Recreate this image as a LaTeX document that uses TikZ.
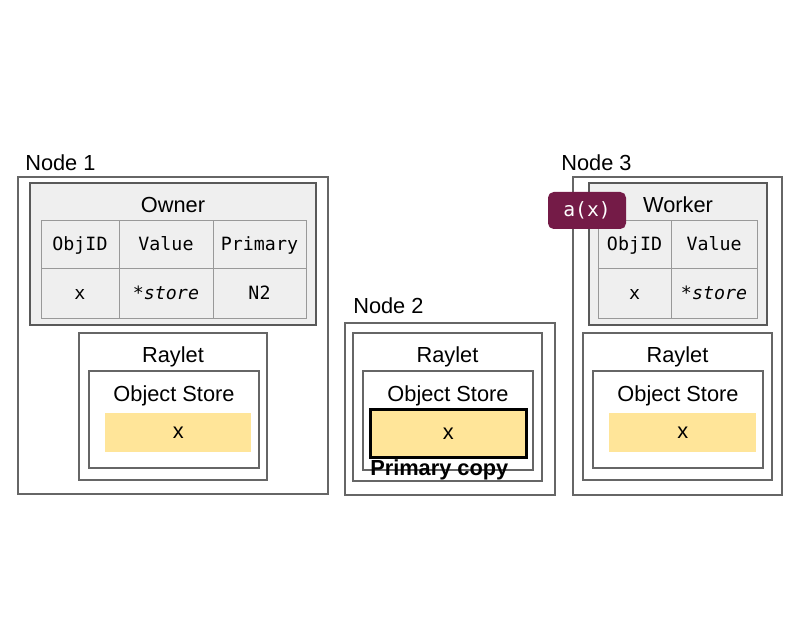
\documentclass[tikz,border=0pt]{standalone}
\usepackage{fontspec}
\setmainfont{Liberation Sans}
\setmonofont{DejaVu Sans Mono}
\usetikzlibrary{positioning,calc}

\definecolor{frame}{HTML}{666666}
\definecolor{panelframe}{HTML}{595959}
\definecolor{grid}{HTML}{999999}
\definecolor{panel}{HTML}{EFEFEF}
\definecolor{objfill}{HTML}{FFE599}
\definecolor{badge}{HTML}{741B47}

\tikzset{
  box/.style={draw=frame,line width=0.9pt,anchor=north west,inner sep=0pt,outer sep=0pt},
  panelbox/.style={box,draw=panelframe,fill=panel,line width=1pt},
  title/.style={font=\fontsize{15.5}{18}\selectfont,inner sep=0pt,anchor=base},
  nodelbl/.style={font=\fontsize{15.5}{18}\selectfont,inner sep=0pt,anchor=base west},
  tcell/.style={draw=grid,line width=0.6pt,anchor=north west,inner sep=0pt,outer sep=0pt,minimum height=1.2cm,text height=1.9ex,text depth=0.2ex,font=\ttfamily\fontsize{13}{15}\selectfont},
  objcell/.style={fill=objfill,anchor=north west,inner sep=0pt,minimum width=3.65cm,minimum height=0.975cm,font=\fontsize{15.5}{18}\selectfont},
}

\begin{document}
\begin{tikzpicture}
  \useasboundingbox (0,0) rectangle (20,-16);

  % Node 1
  \node[box,minimum width=7.75cm,minimum height=7.925cm] (n1) at (0.45,-4.425) {};
  \node[nodelbl] (n1-lbl) at (0.625,-4.275) {Node 1};
  \node[panelbox,minimum width=7.15cm,minimum height=3.55cm] (own) at (0.75,-4.575) {};
  \node[title] (own-t) at ([yshift=-0.74cm]own.north) {Owner};
  \node[tcell,minimum width=1.95cm] (own-id) at (1.025,-5.5) {ObjID};
  \node[tcell,minimum width=2.35cm,right=0pt of own-id] (own-val) {Value};
  \node[tcell,minimum width=2.325cm,right=0pt of own-val] (own-pri) {Primary};
  \node[tcell,minimum width=1.95cm,minimum height=1.25cm,below=0pt of own-id] (own-id2) {x};
  \node[tcell,minimum width=2.35cm,minimum height=1.25cm,below=0pt of own-val] (own-val2) {\textit{*store}};
  \node[tcell,minimum width=2.325cm,minimum height=1.25cm,below=0pt of own-pri] (own-pri2) {N2};
  \node[box,minimum width=4.7cm,minimum height=3.675cm] (ray1) at (1.975,-8.325) {};
  \node[title] (ray1-t) at ([yshift=-0.75cm]ray1.north) {Raylet};
  \node[box,minimum width=4.25cm,minimum height=2.425cm] (os1) at (2.225,-9.275) {};
  \node[title] (os1-t) at ([yshift=-0.75cm]os1.north) {Object Store};
  \node[objcell] (obj1) at (2.625,-10.325) {x};

  % Node 2
  \node[box,minimum width=5.25cm,minimum height=4.3cm] (n2) at (8.625,-8.075) {};
  \node[nodelbl] (n2-lbl) at (8.825,-7.85) {Node 2};
  \node[box,minimum width=4.725cm,minimum height=3.7cm] (ray2) at (8.825,-8.325) {};
  \node[title] (ray2-t) at ([yshift=-0.75cm]ray2.north) {Raylet};
  \node[box,minimum width=4.25cm,minimum height=2.475cm] (os2) at (9.075,-9.275) {};
  \node[title] (os2-t) at ([yshift=-0.75cm]os2.north) {Object Store};
  \node[objcell,draw=black,line width=2pt,minimum width=3.9cm,minimum height=1.2cm] (obj2) at (9.225,-10.2) {x};
  \node[nodelbl,font=\bfseries\fontsize{15.5}{18}\selectfont] (obj2-lbl) at (9.25,-11.875) {Primary copy};

  % Node 3
  \node[box,minimum width=5.225cm,minimum height=7.95cm] (n3) at (14.325,-4.425) {};
  \node[nodelbl] (n3-lbl) at (14.025,-4.275) {Node 3};
  \node[panelbox,minimum width=4.45cm,minimum height=3.55cm] (wrk) at (14.725,-4.575) {};
  \node[title] (wrk-t) at ([yshift=-0.74cm]wrk.north) {Worker};
  \node[tcell,minimum width=1.825cm] (wrk-id) at (14.95,-5.5) {ObjID};
  \node[tcell,minimum width=2.15cm,right=0pt of wrk-id] (wrk-val) {Value};
  \node[tcell,minimum width=1.825cm,minimum height=1.25cm,below=0pt of wrk-id] (wrk-id2) {x};
  \node[tcell,minimum width=2.15cm,minimum height=1.25cm,below=0pt of wrk-val] (wrk-val2) {\textit{*store}};
  \node[draw=none,fill=badge,rounded corners=4pt,text=white,minimum width=1.95cm,minimum height=0.925cm,font=\ttfamily\fontsize{14}{16}\selectfont] (task) at (14.675,-5.2625) {a(x)};
  \node[box,minimum width=4.725cm,minimum height=3.675cm] (ray3) at (14.575,-8.325) {};
  \node[title] (ray3-t) at ([yshift=-0.75cm]ray3.north) {Raylet};
  \node[box,minimum width=4.25cm,minimum height=2.425cm] (os3) at (14.825,-9.275) {};
  \node[title] (os3-t) at ([yshift=-0.75cm]os3.north) {Object Store};
  \node[objcell,minimum width=3.675cm] (obj3) at (15.225,-10.325) {x};
\end{tikzpicture}
\end{document}
